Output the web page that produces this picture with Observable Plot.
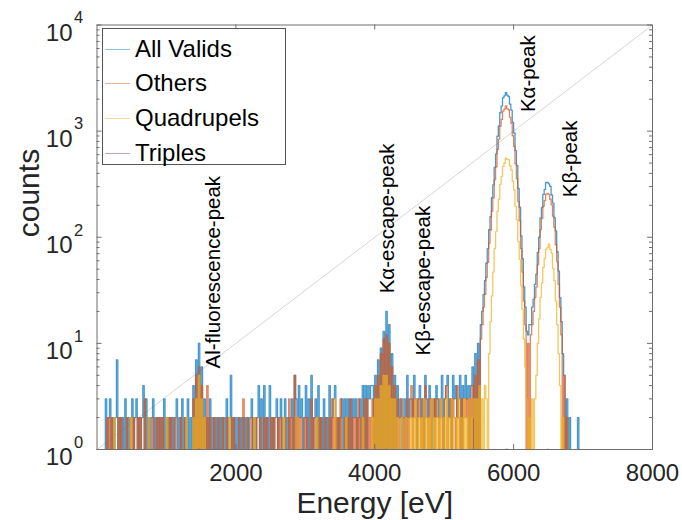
<!DOCTYPE html>
<html><head><meta charset="utf-8">
<script src="https://cdn.jsdelivr.net/npm/d3@7"></script>
<script src="https://cdn.jsdelivr.net/npm/@observablehq/plot@0.6"></script>
<style>
body{margin:0;background:#fff;}
#wrap{position:relative;width:682px;height:520px;overflow:hidden;font-family:"Liberation Sans",Arial,sans-serif;}
#legend{position:absolute;left:102px;top:28px;width:184px;height:137px;box-sizing:border-box;border:1px solid #555;background:#fff;}
.row{position:absolute;left:0;height:30px;display:flex;align-items:center;font-size:24px;color:#000;white-space:nowrap;}
.swatch{width:25px;height:0;border-top:1.5px solid;margin-left:2px;margin-right:5px;opacity:0.45;}
</style></head>
<body><div id="wrap"></div>
<script>
// ---- histogram grid (eV) ----
const binStartEV = 120;
const binWidthEV = 20;

// counts per 20 eV bin, starting at 120 eV
const allValids = [
 3,0,2,3,0,2,0,2,7,0,2,0,2,0,3,0,2,0,2,3,
 0,2,3,0,2,0,2,4,0,3,0,2,0,2,3,0,2,0,2,0,
 2,0,3,0,2,0,2,0,2,0,2,3,0,2,0,3,0,2,0,3,
 0,2,0,4,0,7,0,10,0,6,0,3,0,2,0,3,0,2,0,2,
 0,2,0,2,0,2,0,3,0,2,5,0,2,0,2,0,2,0,2,0,
 2,0,2,0,2,3,0,2,0,2,4,0,3,0,4,0,2,0,4,0,
 2,0,2,3,0,2,3,0,2,3,0,2,0,2,3,0,5,3,0,4,
 2,3,0,2,4,0,3,0,5,0,2,3,0,4,0,2,0,3,0,2,
 0,4,0,2,3,4,0,2,0,2,3,0,3,0,3,0,3,0,3,2,
 3,0,2,3,0,4,0,4,0,4,3,4,4,0,5,0,7,0,9,0,
 13,0,20,0,15,0,8,0,5,0,4,2,3,0,2,3,0,5,2,3,
 3,2,5,3,0,3,4,2,3,0,5,3,2,4,3,0,3,2,4,3,
 2,3,5,0,3,4,5,2,3,0,5,3,4,2,3,5,0,4,3,5,
 3,4,0,4,6,0,8,0,10,0,15,20,29,39,57,78,118,156,236,312,
 455,610,895,1120,1490,1720,2060,2150,2300,2180,2120,1800,1580,1210,960,655,475,288,192,103,
 63,34,22,13,12,15,15,22,26,36,45,72,100,152,190,253,282,328,328,318,
 302,250,210,153,115,73,48,27,16,8,5,0,3,0,2,0,0,0,0,0,
 2,0
];
const others = [
 0,2,0,2,0,2,0,0,0,2,0,2,0,0,0,2,0,0,2,0,
 2,0,0,2,0,2,0,0,3,0,0,2,0,0,2,0,0,2,0,2,
 0,2,0,0,0,2,0,2,0,0,2,0,0,0,2,0,0,2,0,0,
 0,0,0,3,0,5,0,6,0,4,0,2,0,4,0,2,0,0,2,0,
 0,2,0,0,2,0,0,2,0,0,2,0,2,0,0,0,2,0,0,3,
 0,0,2,0,0,2,0,0,2,0,0,2,0,0,2,0,2,0,0,2,
 0,2,0,0,2,0,2,0,0,2,0,0,3,0,2,0,5,0,2,0,
 2,0,0,2,0,2,0,0,3,0,2,0,0,2,0,2,0,0,2,0,
 0,2,0,3,0,2,0,2,0,3,0,0,2,0,2,0,3,0,2,0,
 2,0,3,0,2,0,3,0,3,0,2,0,3,0,4,0,5,0,8,0,
 11,0,12,0,10,0,6,0,4,0,3,0,2,3,0,2,0,3,0,2,
 4,0,3,2,0,3,2,0,3,0,4,2,0,3,0,2,3,0,3,2,
 0,3,2,0,3,4,0,2,3,0,3,2,0,4,2,0,3,0,3,2,
 3,0,3,0,4,0,5,0,7,0,11,15,22,29,42,58,88,117,176,234,
 348,460,672,840,1115,1290,1540,1610,1730,1630,1590,1350,1185,905,720,493,355,217,143,78,
 47,25,15,0,10,0,12,15,20,27,34,55,78,118,150,196,221,255,257,254,
 228,202,158,124,85,59,36,22,12,0,5,0,2,0,0,0,0,0,0,0,
 0,0
];
const quadrupels = [
 0,0,0,0,0,0,2,0,0,0,0,0,0,0,0,0,0,0,2,0,
 0,0,0,0,0,0,0,0,0,0,0,2,0,0,0,0,0,0,0,0,
 0,0,0,0,2,0,0,0,0,0,0,0,0,0,0,0,0,0,2,0,
 0,0,0,2,0,3,0,5,0,3,0,2,0,0,0,0,0,0,0,0,
 0,0,0,0,0,0,0,0,0,2,0,0,0,0,0,0,0,0,0,0,
 0,0,0,0,0,0,0,2,0,0,0,0,0,0,0,0,0,0,0,0,
 0,0,0,0,0,0,0,0,2,0,0,0,0,0,0,0,0,0,2,0,
 0,0,0,0,0,0,0,0,0,0,0,0,2,0,0,0,0,0,0,0,
 0,0,0,0,0,3,0,0,0,0,0,0,0,2,0,0,0,0,0,0,
 0,0,0,0,0,2,0,0,0,0,0,0,2,0,3,0,3,0,4,0,
 5,0,5,0,4,0,3,0,3,0,2,0,0,2,0,0,2,0,0,2,
 0,2,0,3,0,2,0,2,0,3,0,2,0,2,0,3,0,2,0,2,
 0,3,0,2,0,3,0,2,0,3,0,2,2,0,3,0,2,0,3,0,
 2,0,3,0,2,3,0,3,0,4,0,3,0,4,3,0,8,16,28,47,
 78,113,175,228,315,374,465,498,556,542,540,472,430,337,278,195,146,91,62,35,
 21,11,6,3,0,2,0,3,0,3,5,10,17,27,37,52,63,77,80,86,
 77,71,51,39,25,15,8,4,0,2,0,0,0,0,0,0,0,0,0,0,
 0,0
];
// Triples: only single counts (sit on the 10^0 baseline)
const triplesBinEV = [1460, 4160, 5880, 5900, 6480];
const triplesCounts = [1, 1, 1, 1, 1];

const seriesNames = ["All Valids", "Others", "Quadrupels", "Triples"];
const seriesColors = ["#0072BD", "#D95319", "#EDB120", "#7E2F8E"];

// reference diagonal
const diagonalEV = [0, 8000];
const diagonalCounts = [1, 10000];

// annotations
const annotationLabels = ["Al-fluorescence-peak", "Kα-escape-peak", "Kβ-escape-peak", "Kα-peak", "Kβ-peak"];
const annotationEV = [1678, 4183, 4702, 6214, 6818];
const annotationCounts = [5.8, 29.6, 7.7, 1511, 238];

// ticks
const xTickValues = [2000, 4000, 6000, 8000];
const xTickLabels = ["2000", "4000", "6000", "8000"];
const yMajorTicks = [1, 10, 100, 1000, 10000];
const yTickExponents = ["0", "1", "2", "3", "4"];
const yMinorTicks = [2,3,4,5,6,7,8,9,20,30,40,50,60,70,80,90,200,300,400,500,600,700,800,900,2000,3000,4000,5000,6000,7000,8000,9000];

// ---- build tables ----
const triplesDense = allValids.map((_, i) => {
  const k = triplesBinEV.indexOf(binStartEV + i * binWidthEV);
  return k >= 0 ? triplesCounts[k] : 0;
});
function stairs(counts) {
  const pts = [{e: binStartEV, c: 0}];
  counts.forEach((c, i) => pts.push({e: binStartEV + i * binWidthEV, c}));
  pts.push({e: binStartEV + counts.length * binWidthEV, c: 0});
  return pts;
}
const seriesData = [allValids, others, quadrupels, triplesDense];
const diagonal = diagonalEV.map((e, i) => ({e, c: diagonalCounts[i]}));
const annotations = annotationLabels.map((label, i) => ({label, e: annotationEV[i], c: annotationCounts[i]}));

const axisColor = "#6e6e6e";
const W = 682, H = 520, mL = 96.5, mR = 30, mT = 24.5, mB = 71;
const frameW = W - mL - mR, frameH = H - mT - mB;

const marks = [];
marks.push(Plot.line(diagonal, {x: "e", y: "c", stroke: "#cccccc", strokeWidth: 0.8, clip: true}));
seriesData.forEach((counts, s) => {
  marks.push(Plot.line(stairs(counts), {
    x: "e", y: d => (d.c > 0 ? d.c : 0.5), curve: "step-after",
    stroke: seriesColors[s], strokeWidth: 1.3, strokeOpacity: 0.72, clip: true
  }));
});
// ticks (inward)
marks.push(Plot.tickY(yMajorTicks, {y: d => d, insetRight: frameW - 5, stroke: axisColor}));
marks.push(Plot.tickY(yMajorTicks, {y: d => d, insetLeft: frameW - 5, stroke: axisColor}));
marks.push(Plot.tickY(yMinorTicks, {y: d => d, insetRight: frameW - 3, stroke: axisColor}));
marks.push(Plot.tickY(yMinorTicks, {y: d => d, insetLeft: frameW - 3, stroke: axisColor}));
marks.push(Plot.tickX(xTickValues.slice(0, 3), {x: d => d, insetTop: frameH - 5, stroke: axisColor}));
marks.push(Plot.tickX(xTickValues.slice(0, 3), {x: d => d, insetBottom: frameH - 5, stroke: axisColor}));
marks.push(Plot.frame({stroke: axisColor, strokeWidth: 1}));
// tick labels
marks.push(Plot.text(yMajorTicks, {y: d => d, frameAnchor: "left", text: () => "10", textAnchor: "end", lineAnchor: "middle", dx: -24.5, dy: 8, fontSize: 24, fill: "#262626"}));
marks.push(Plot.text(yMajorTicks, {y: d => d, frameAnchor: "left", text: (d, i) => yTickExponents[i], textAnchor: "start", lineAnchor: "middle", dx: -23, dy: -7, fontSize: 16.5, fill: "#262626"}));
marks.push(Plot.text(xTickValues, {x: d => d, frameAnchor: "bottom", text: (d, i) => xTickLabels[i], lineAnchor: "middle", dy: 24, fontSize: 24, fill: "#262626"}));
// axis titles
marks.push(Plot.text(["counts"], {frameAnchor: "left", text: d => d, rotate: -90, lineAnchor: "middle", dx: -68, fontSize: 30, fill: "#262626"}));
marks.push(Plot.text(["Energy [eV]"], {frameAnchor: "bottom", text: d => d, lineAnchor: "middle", dy: 54, fontSize: 30, fill: "#262626"}));
// annotations
marks.push(Plot.text(annotations, {x: "e", y: "c", text: "label", rotate: -90, textAnchor: "start", lineAnchor: "middle", fontSize: 20.5, fill: "#000"}));

const chart = Plot.plot({
  width: W, height: H,
  marginLeft: mL, marginRight: mR, marginTop: mT, marginBottom: mB,
  style: {fontFamily: '"Liberation Sans", Arial, sans-serif', background: "#fff", overflow: "visible"},
  x: {type: "linear", domain: [0, 8000], axis: null},
  y: {type: "log", domain: [1, 10000], axis: null},
  marks
});
const wrap = document.getElementById("wrap");
wrap.appendChild(chart);

// legend overlay
const legend = document.createElement("div");
legend.id = "legend";
const rowCenters = [20, 54, 89, 124];
seriesNames.forEach((name, i) => {
  const row = document.createElement("div");
  row.className = "row";
  row.style.top = (rowCenters[i] - 15) + "px";
  const sw = document.createElement("span");
  sw.className = "swatch";
  sw.style.borderTopColor = seriesColors[i];
  const tx = document.createElement("span");
  tx.textContent = name;
  row.appendChild(sw); row.appendChild(tx);
  legend.appendChild(row);
});
wrap.appendChild(legend);
</script></body></html>
